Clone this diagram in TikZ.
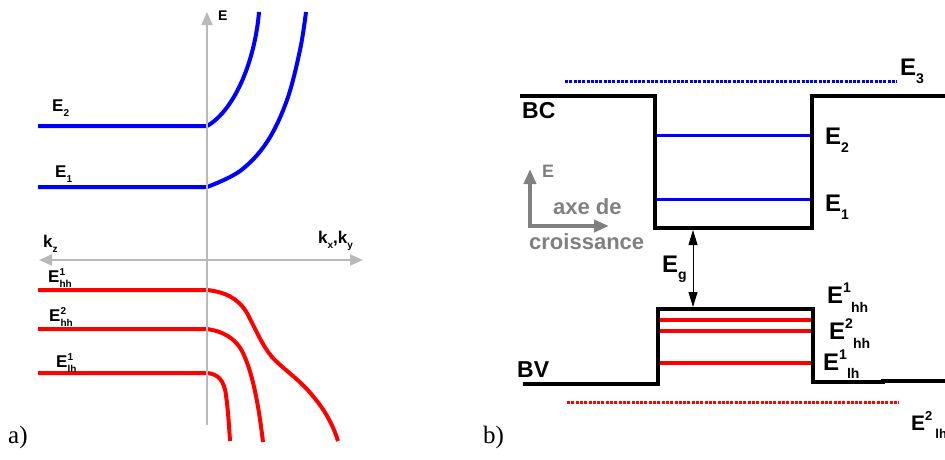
\documentclass[tikz,border=0pt]{standalone}
\usepackage{fontspec}
\setmainfont{Liberation Serif}
\setsansfont{Liberation Sans}
\usetikzlibrary{arrows.meta}
\definecolor{lgray}{RGB}{185,185,185}
\definecolor{dgray}{RGB}{128,128,128}
\newcommand\fs[1]{\fontsize{#1}{#1}\selectfont}
\tikzset{
  ltip/.tip={Triangle[length=13pt,width=11pt]},
  gtip/.tip={Triangle[length=15pt,width=12pt]},
  ktip/.tip={Triangle[length=15pt,width=9pt]}
}
\begin{document}
\begin{tikzpicture}[x=1pt,y=-1pt,
  lab/.style={font=\sffamily\bfseries, inner sep=0pt, anchor=base west},
  serlab/.style={font=\rmfamily, inner sep=0pt, anchor=base west},
  bband/.style={blue, line width=4pt},
  rband/.style={red, line width=4pt},
  blk/.style={black, line width=3.5pt, line join=miter},
  qblue/.style={blue, line width=3pt},
  qred/.style={red, line width=4pt},
  dotb/.style={blue, line width=3pt, dash pattern=on 3pt off 1.3pt},
  dotr/.style={red, line width=3pt, dash pattern=on 3pt off 1.3pt},
  laxis/.style={lgray, line width=2pt},
  garrow/.style={dgray, line width=4pt, line join=miter}
]
\useasboundingbox (0,0) rectangle (945,459);

% ---------------- panel a ----------------
% axes
\coordinate (vaxb) at (207,425);
\coordinate (vaxt) at (207,12);
\coordinate (haxl) at (39,260);
\coordinate (haxr) at (363,260);
% blue bands
\draw[bband] (38,126) -- (207,126) .. controls (235,110) and (255,60) .. (259,12);
\draw[bband] (38,187) -- (207,187) plot[smooth, tension=0.6] coordinates {(207,187) (240,171) (267,142) (287,100) (300,50) (306,12)};
% red bands
\draw[rband] (38,290) -- (207,290) .. controls (225,292) and (238,298) .. (247,313)
  .. controls (256,330) and (262,345) .. (272,357)
  .. controls (282,368) and (300,380) .. (312,395)
  .. controls (325,410) and (333,425) .. (338,441);
\draw[rband] (38,329) -- (207,329) .. controls (222,331) and (236,338) .. (243,353)
  .. controls (252,372) and (258,400) .. (263,442);
\draw[rband] (38,373) -- (207,373) .. controls (218,374) and (224,380) .. (226,395)
  .. controls (228,410) and (229,425) .. (230,441);
\draw[laxis, -{ltip}] (vaxb) -- (vaxt);
\draw[laxis, {ltip}-{ltip}] (haxl) -- (haxr);
% labels
\node[lab] (eax) at (218,20) {\fs{14}E};
\node[lab] (le2) at (52,111) {\fs{17}E\raisebox{-5pt}{\fs{10}2}};
\node[lab] (le1) at (55,177) {\fs{17}E\raisebox{-5pt}{\fs{10}1}};
\node[lab] (kz) at (43,247) {\fs{17}k\raisebox{-5pt}{\fs{10}z}};
\node[lab] (kxy) at (318,243) {\fs{17}k\raisebox{-5pt}{\fs{10}x},k\raisebox{-5pt}{\fs{10}y}};
\node[lab] (lhh1) at (48,282) {\fs{17}E\rlap{\raisebox{7pt}{\fs{10}1}}\raisebox{-5pt}{\fs{10}hh}};
\node[lab] (lhh2) at (49,321) {\fs{17}E\rlap{\raisebox{7pt}{\fs{10}2}}\raisebox{-5pt}{\fs{10}hh}};
\node[lab] (llh1) at (56,367) {\fs{17}E\rlap{\raisebox{7pt}{\fs{10}1}}\raisebox{-5pt}{\fs{10}lh}};
\node[serlab] (pa) at (8,443) {\fs{25}a)};

% ---------------- panel b ----------------
\draw[dotb] (565,81) -- (897,81);
\draw[blk] (520,96) -- (655,96) -- (655,228) -- (812,228) -- (812,96) -- (945,96);
\draw[qblue] (657,135) -- (810,135);
\draw[qblue] (657,199) -- (810,199);
\draw[blk] (523,384) -- (658,384) -- (658,309) -- (813,309) -- (813,382) -- (883,382) -- (883,381) -- (945,381);
\draw[qred] (660,320) -- (811,320);
\draw[qred] (660,331) -- (811,331);
\draw[qred] (660,363) -- (811,363);
\draw[dotr] (567,402) -- (899,402);
% Eg arrow
\coordinate (egt) at (693,230);
\coordinate (egb) at (693,307);
\draw[black, line width=1pt, {ktip}-{ktip}] (egt) -- (egb);
% growth axis
\coordinate (gtop) at (530,169);
\coordinate (gcor) at (530,226);
\coordinate (grt) at (609,226);
\draw[garrow, {gtip}-{gtip}] (gtop) -- (gcor) -- (grt);
% labels
\node[lab] (re3) at (900,75) {\fs{24}E\raisebox{-8pt}{\fs{14}3}};
\node[lab] (bc) at (522,118) {\fs{23}BC};
\node[lab] (re2) at (825,144) {\fs{24}E\raisebox{-8pt}{\fs{14}2}};
\node[lab] (re1) at (825,211) {\fs{24}E\raisebox{-8pt}{\fs{14}1}};
\node[lab, text=dgray] (ge) at (542,177) {\fs{18}E};
\node[lab, text=dgray] (axe) at (553,214) {\fs{22}axe de};
\node[lab, text=dgray] (cro) at (529,249) {\fs{22}croissance};
\node[lab] (eg) at (662,272) {\fs{24}E\raisebox{-7pt}{\fs{14}g}};
\node[lab] (rhh1) at (827,303) {\fs{24}E\raisebox{11pt}{\fs{14}1}\raisebox{-9pt}{\fs{14}hh}};
\node[lab] (rhh2) at (829,339) {\fs{24}E\raisebox{11pt}{\fs{14}2}\raisebox{-9pt}{\fs{14}hh}};
\node[lab] (rlh1) at (823,370) {\fs{24}E\raisebox{11pt}{\fs{14}1}\raisebox{-8pt}{\fs{14}lh}};
\node[lab] (rlh2) at (911,430) {\fs{21}E\raisebox{10pt}{\fs{13}2}\hspace{3pt}\raisebox{-8pt}{\fs{13}lh}};
\node[lab] (bv) at (517,377) {\fs{23}BV};
\node[serlab] (pb) at (483,443) {\fs{25}b)};
\end{tikzpicture}
\end{document}
